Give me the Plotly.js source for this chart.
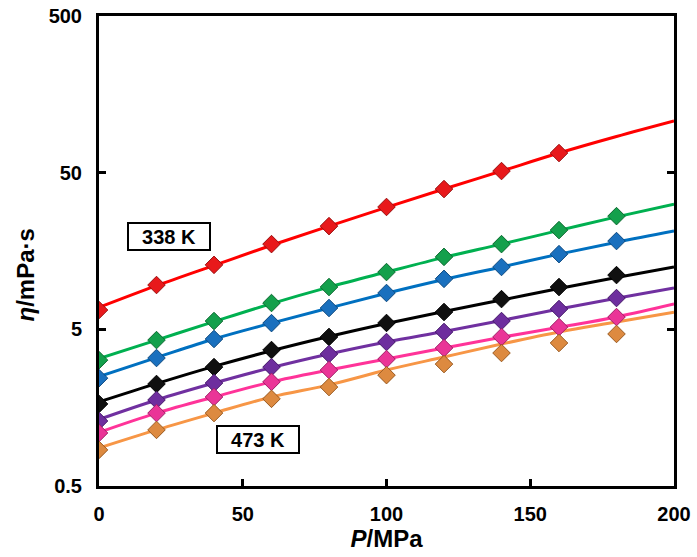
<!DOCTYPE html>
<html>
<head>
<meta charset="utf-8">
<script src="https://cdn.plot.ly/plotly-3.0.1.min.js"></script>
<style>html,body{margin:0;padding:0;background:#fff;}#chart{width:697px;height:557px;}</style>
</head>
<body>
<div id="chart"></div>
<script>
// Pressure values (MPa)
const P_points = [0, 20, 40, 60, 80, 100, 120, 140, 160, 180];
const P_line = [0, 20, 40, 60, 80, 100, 120, 140, 160, 180, 200];

// Measured viscosity (mPa·s), highest (338 K) to lowest (473 K)
const eta_338 = [6.64, 9.59, 12.9, 17.5, 22.8, 30.2, 39.3, 51.2, 66.7];
const eta_s2 = [3.18, 4.27, 5.65, 7.36, 9.31, 11.6, 14.5, 17.5, 21.5, 26.4];
const eta_s3 = [2.44, 3.28, 4.34, 5.48, 6.84, 8.53, 10.5, 12.5, 15.1, 18.3];
const eta_s4 = [1.67, 2.24, 2.87, 3.69, 4.47, 5.49, 6.45, 7.80, 9.31, 11.1];
const eta_s5 = [1.30, 1.77, 2.27, 2.87, 3.48, 4.15, 4.81, 5.65, 6.74, 7.92];
const eta_s6 = [1.09, 1.46, 1.85, 2.31, 2.75, 3.23, 3.80, 4.47, 5.17, 5.99];
const eta_473 = [0.85, 1.14, 1.46, 1.80, 2.14, 2.55, 3.00, 3.53, 4.09, 4.67];

// Correlation curves
const fit_338 = [6.9, 9.5, 12.8, 17.2, 22.8, 30.0, 39.3, 51.2, 66.7, 85.0, 106.8];
const fit_s2 = [3.25, 4.27, 5.6, 7.3, 9.3, 11.6, 14.4, 17.5, 21.4, 26.1, 31.5];
const fit_s3 = [2.50, 3.30, 4.34, 5.48, 6.84, 8.5, 10.4, 12.5, 15.1, 18.0, 21.2];
const fit_s4 = [1.72, 2.25, 2.90, 3.65, 4.50, 5.45, 6.5, 7.7, 9.1, 10.7, 12.5];
const fit_s5 = [1.33, 1.77, 2.27, 2.85, 3.48, 4.15, 4.85, 5.7, 6.75, 7.9, 9.18];
const fit_s6 = [1.10, 1.46, 1.85, 2.31, 2.75, 3.23, 3.80, 4.45, 5.15, 6.0, 7.25];
const fit_473 = [0.874, 1.14, 1.46, 1.85, 2.21, 2.75, 3.33, 4.03, 4.81, 5.57, 6.44];

const yTickVals = [0.5, 5, 50, 500];
const yTickText = ['0.5', '5', '50', '500'];
const xTickVals = [0, 50, 100, 150, 200];
const labels = ['338 K', '473 K'];

const lineColors = ['#FF0000', '#00B050', '#0070C0', '#000000', '#7030A0', '#FF3399', '#F79646'];
const markerColors = ['#E8191B', '#14A04C', '#1A70BE', '#101010', '#6E2E9E', '#EA3597', '#DD8A40'];
const markerEdges = ['#9A1010', '#0C6A30', '#0E4A80', '#000000', '#45186A', '#A01E66', '#9A5A20'];

const measured = [eta_338, eta_s2, eta_s3, eta_s4, eta_s5, eta_s6, eta_473];
const fits = [fit_338, fit_s2, fit_s3, fit_s4, fit_s5, fit_s6, fit_473];

const traces = [];
fits.forEach((f, i) => {
  traces.push({
    x: P_line, y: f, mode: 'lines', type: 'scatter',
    line: {color: lineColors[i], width: 3, shape: 'spline'},
    hoverinfo: 'skip', showlegend: false
  });
});
measured.forEach((m, i) => {
  traces.push({
    x: P_points.slice(0, m.length), y: m, mode: 'markers', type: 'scatter',
    marker: {symbol: 'diamond', size: 13.5, color: markerColors[i],
             line: {color: markerEdges[i], width: 1}},
    showlegend: false
  });
});

const tickFont = {family: 'Liberation Sans, Arial, sans-serif', size: 20, color: '#000', weight: 'bold'};

const layout = {
  width: 697, height: 557,
  margin: {l: 99, r: 23, t: 16, b: 71, pad: 0},
  paper_bgcolor: '#fff', plot_bgcolor: '#fff',
  showlegend: false,
  xaxis: {
    range: [0, 200], tickvals: xTickVals, ticktext: xTickVals.map(String),
    showgrid: false, zeroline: false,
    showline: true, linecolor: '#000', linewidth: 3, mirror: true,
    ticks: 'inside', ticklen: 7, tickwidth: 3, tickcolor: '#000',
    tickfont: tickFont, ticklabelstandoff: 8,
    title: {text: '<i>P</i>/MPa', font: {family: 'Liberation Sans, Arial, sans-serif', size: 24, color: '#000', weight: 'bold'}, standoff: 7}
  },
  yaxis: {
    type: 'log', range: [Math.log10(0.5), Math.log10(500)],
    tickvals: yTickVals, ticktext: yTickText,
    showgrid: false, zeroline: false,
    showline: true, linecolor: '#000', linewidth: 3, mirror: 'ticks',
    ticks: 'inside', ticklen: 7, tickwidth: 3, tickcolor: '#000',
    tickfont: tickFont, ticklabelstandoff: 10
  },
  annotations: [
    {xref: 'paper', yref: 'paper', x: -0.127, y: 0.45, xanchor: 'center', yanchor: 'middle',
     text: '<i>η</i>/mPa·s', textangle: -90, showarrow: false,
     font: {family: 'Liberation Sans, Arial, sans-serif', size: 24, color: '#000', weight: 'bold'}},
    {xref: 'paper', yref: 'paper', x: 0.1217, y: 0.531, xanchor: 'center', yanchor: 'middle',
     text: labels[0], showarrow: false, bgcolor: '#fff', bordercolor: '#000', borderwidth: 2,
     width: 78, height: 23, borderpad: 1,
     font: {family: 'Liberation Sans, Arial, sans-serif', size: 20, color: '#000', weight: 'bold'}},
    {xref: 'paper', yref: 'paper', x: 0.2757, y: 0.100, xanchor: 'center', yanchor: 'middle',
     text: labels[1], showarrow: false, bgcolor: '#fff', bordercolor: '#000', borderwidth: 2,
     width: 78, height: 23, borderpad: 1,
     font: {family: 'Liberation Sans, Arial, sans-serif', size: 20, color: '#000', weight: 'bold'}}
  ]
};

Plotly.newPlot('chart', traces, layout, {displayModeBar: false, staticPlot: true});
</script>
</body>
</html>
